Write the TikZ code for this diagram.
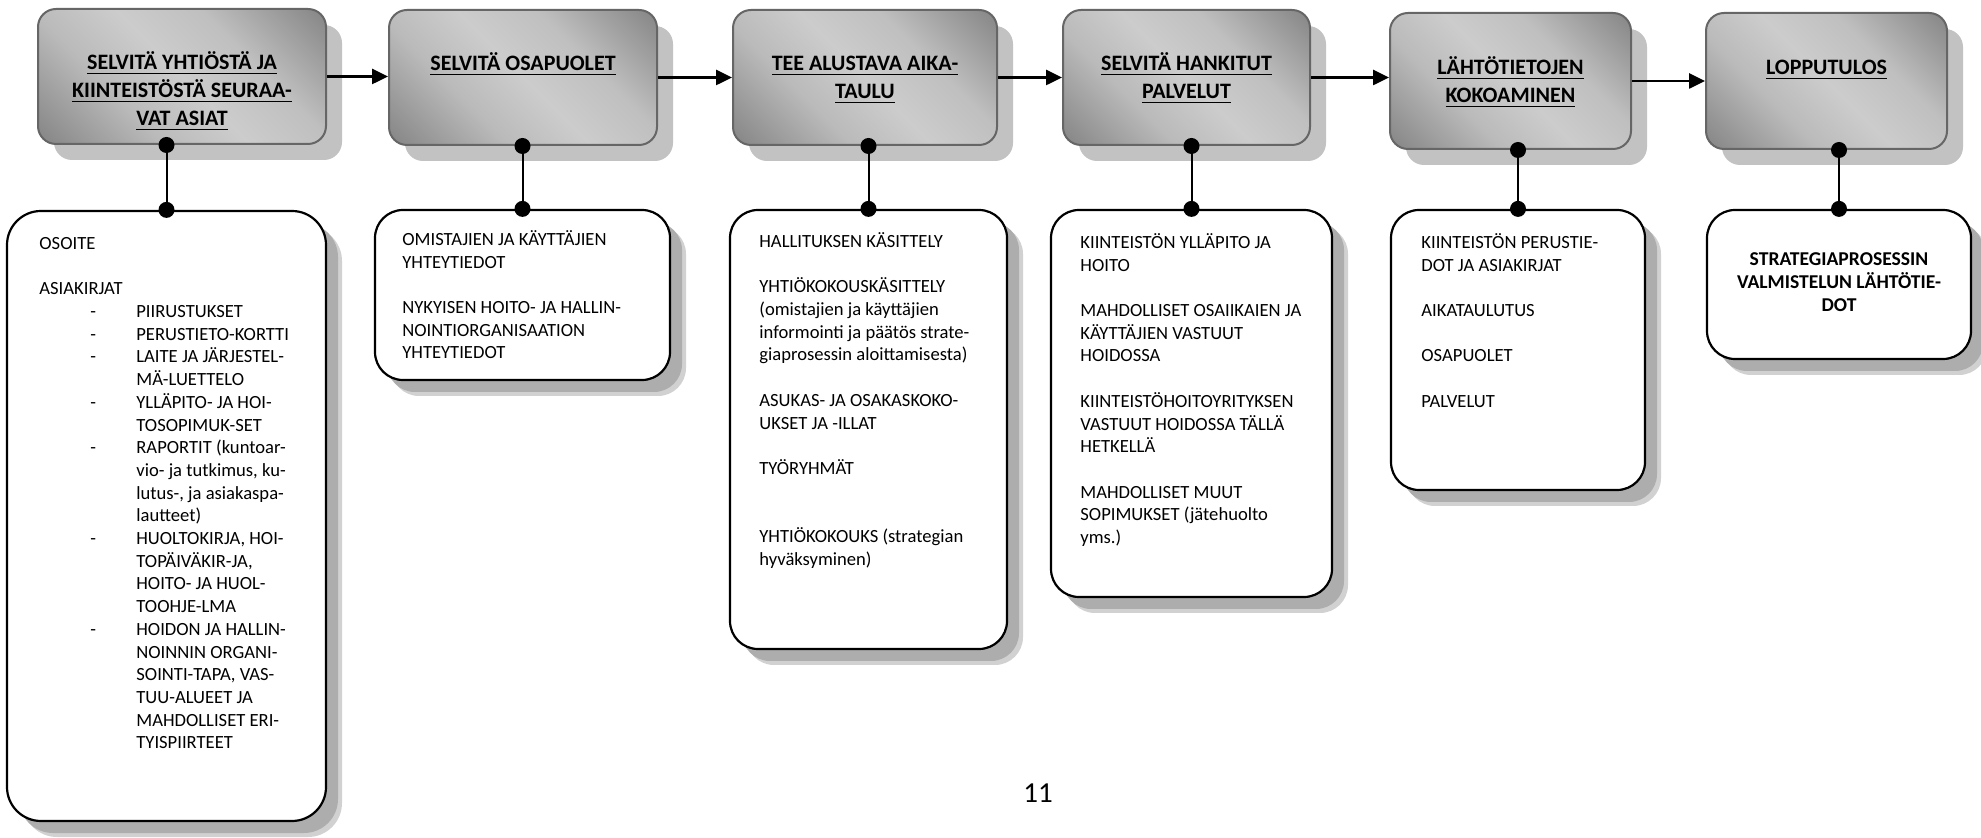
\documentclass[tikz,border=0pt]{standalone}
\usepackage{fontspec}
\setmainfont{Carlito}
\usetikzlibrary{arrows.meta,shadows,fit}
% underlined heading line
\newcommand{\uln}[1]{\leavevmode\setbox0\hbox{#1}\rlap{\rule[-2.2pt]{\wd0}{0.9pt}}\box0}
% list helpers for the first detail box
\newcommand{\itemdash}[1]{\leavevmode\makebox[48.5pt][l]{\hspace{25.5pt}-}#1}
\newcommand{\itemcont}[1]{\leavevmode\hspace*{48.5pt}#1}

% dark corners, light diagonal band
\pgfdeclareverticalshading{stagegrad}{100bp}{%
  color(0bp)=(black!62); color(15bp)=(black!60); color(24bp)=(black!50);
  color(40bp)=(black!27); color(50bp)=(black!20); color(60bp)=(black!25);
  color(76bp)=(black!50); color(85bp)=(black!60); color(100bp)=(black!62)}

\tikzset{
  stage/.style={draw=black!60, line width=1pt, rounded corners=9pt, inner sep=0pt,
    fill=black!35,
    drop shadow={shadow xshift=8pt, shadow yshift=-8pt, fill=black!24, opacity=1},
    path picture={%
      \pgfpointdiff{\pgfpointanchor{path picture bounding box}{south west}}%
                   {\pgfpointanchor{path picture bounding box}{north east}}%
      \pgfgetlastxy{\bw}{\bh}%
      \pgfmathsetlengthmacro{\hb}{(\bw+\bh)/2.8}%
      \shade[shading=stagegrad, shading angle=-45]
        (path picture bounding box.center) ++(-\hb,-\hb) rectangle ++(2*\hb,2*\hb);
    }},
  detail/.style={draw=black, line width=1.1pt, rounded corners=14pt, fill=white, inner sep=0pt,
    drop shadow={shadow xshift=8pt, shadow yshift=-8pt, fill=black!18, opacity=1},
    drop shadow={shadow xshift=6pt, shadow yshift=-6pt, fill=black!32, opacity=1}},
  title/.style={anchor=base, inner sep=0pt, font=\fontsize{11}{14}\bfseries\selectfont},
  body/.style={anchor=base west, inner sep=0pt, font=\fontsize{9.3}{11.35}\selectfont},
  flow/.style={line width=1.3pt, -{Triangle[length=8pt,width=7.5pt]}},
  link/.style={line width=1pt},
  knob/.style={fill=black}
}

\begin{document}
\begin{tikzpicture}[x=0.5pt, y=-0.5pt]
\fill[white] (0,0) rectangle (1981,838);
\useasboundingbox (0,0) rectangle (1981,838);

% process stages
\node[stage, fit={(38,9) (326,144)}] (b1) {};
\node[stage, fit={(389,10) (657,145)}] (b2) {};
\node[stage, fit={(733,10) (997,145)}] (b3) {};
\node[stage, fit={(1063,10) (1310,145)}] (b4) {};
\node[stage, fit={(1390,13) (1631,149)}] (b5) {};
\node[stage, fit={(1706,13) (1947,149)}] (b6) {};

\node[title] (t1) at (182,70) {\parbox[t]{140pt}{\centering
  \uln{SELVITÄ YHTIÖSTÄ JA}\\ \uln{KIINTEISTÖSTÄ SEURAA-}\\ \uln{VAT ASIAT}}};
\node[title] (t2) at (523,71) {\parbox[t]{130pt}{\centering \uln{SELVITÄ OSAPUOLET}}};
\node[title] (t3) at (865,71) {\parbox[t]{130pt}{\centering
  \uln{TEE ALUSTAVA AIKA-}\\ \uln{TAULU}}};
\node[title] (t4) at (1186.5,71) {\parbox[t]{120pt}{\centering
  \uln{SELVITÄ HANKITUT}\\ \uln{PALVELUT}}};
\node[title] (t5) at (1510.5,75) {\parbox[t]{120pt}{\centering
  \uln{LÄHTÖTIETOJEN}\\ \uln{KOKOAMINEN}}};
\node[title] (t6) at (1826.5,75) {\parbox[t]{120pt}{\centering \uln{LOPPUTULOS}}};

% detail boxes
\node[detail, rounded corners=17pt, fit={(7,211) (326,821)}] (d1) {};
\node[detail, fit={(375,210) (670,380)}] (d2) {};
\node[detail, fit={(730,210) (1007,649)}] (d3) {};
\node[detail, fit={(1051,210) (1332,597)}] (d4) {};
\node[detail, fit={(1391,210) (1645,490)}] (d5) {};
\node[detail, fit={(1707,210) (1971,359)}] (d6) {};

\node[body] (x1) at (39,249.5) {\parbox[t]{200pt}{\raggedright
  OSOITE\\[\baselineskip]
  ASIAKIRJAT\\
  \itemdash{PIIRUSTUKSET}\\
  \itemdash{PERUSTIETO-KORTTI}\\
  \itemdash{LAITE JA JÄRJESTEL-}\\
  \itemcont{MÄ-LUETTELO}\\
  \itemdash{YLLÄPITO- JA HOI-}\\
  \itemcont{TOSOPIMUK-SET}\\
  \itemdash{RAPORTIT (kuntoar-}\\
  \itemcont{vio- ja tutkimus, ku-}\\
  \itemcont{lutus-, ja asiakaspa-}\\
  \itemcont{lautteet)}\\
  \itemdash{HUOLTOKIRJA, HOI-}\\
  \itemcont{TOPÄIVÄKIR-JA,}\\
  \itemcont{HOITO- JA HUOL-}\\
  \itemcont{TOOHJE-LMA}\\
  \itemdash{HOIDON JA HALLIN-}\\
  \itemcont{NOINNIN ORGANI-}\\
  \itemcont{SOINTI-TAPA, VAS-}\\
  \itemcont{TUU-ALUEET JA}\\
  \itemcont{MAHDOLLISET ERI-}\\
  \itemcont{TYISPIIRTEET}}};

\node[body] (x2) at (402,245.5) {\parbox[t]{200pt}{\raggedright
  OMISTAJIEN JA KÄYTTÄJIEN\\
  YHTEYTIEDOT\\[\baselineskip]
  NYKYISEN HOITO- JA HALLIN-\\
  NOINTIORGANISAATION\\
  YHTEYTIEDOT}};

\node[body] (x3) at (759,247.5) {\parbox[t]{200pt}{\raggedright
  HALLITUKSEN KÄSITTELY\\[\baselineskip]
  YHTIÖKOKOUSKÄSITTELY\\
  (omistajien ja käyttäjien\\
  informointi ja päätös strate-\\
  giaprosessin aloittamisesta)\\[\baselineskip]
  ASUKAS- JA OSAKASKOKO-\\
  UKSET JA -ILLAT\\[\baselineskip]
  TYÖRYHMÄT\\[2\baselineskip]
  YHTIÖKOKOUKS (strategian\\
  hyväksyminen)}};

\node[body] (x4) at (1080,248.5) {\parbox[t]{200pt}{\raggedright
  KIINTEISTÖN YLLÄPITO JA\\
  HOITO\\[\baselineskip]
  MAHDOLLISET OSAIIKAIEN JA\\
  KÄYTTÄJIEN VASTUUT\\
  HOIDOSSA\\[\baselineskip]
  KIINTEISTÖHOITOYRITYKSEN\\
  VASTUUT HOIDOSSA TÄLLÄ\\
  HETKELLÄ\\[\baselineskip]
  MAHDOLLISET MUUT\\
  SOPIMUKSET (jätehuolto\\
  yms.)}};

\node[body] (x5) at (1421,248.5) {\parbox[t]{200pt}{\raggedright
  KIINTEISTÖN PERUSTIE-\\
  DOT JA ASIAKIRJAT\\[\baselineskip]
  AIKATAULUTUS\\[\baselineskip]
  OSAPUOLET\\[\baselineskip]
  PALVELUT}};

\node[body, anchor=base, font=\fontsize{9.8}{11.5}\bfseries\selectfont] (x6) at (1839,265.5)
  {\parbox[t]{125pt}{\centering
  STRATEGIAPROSESSIN\\
  VALMISTELUN LÄHTÖTIE-\\
  DOT}};

% flow between the stages
\draw[flow] (b1.east) -- (b1.east -| b2.west);
\draw[flow] (b2.east) -- (b2.east -| b3.west);
\draw[flow] (b3.east) -- (b3.east -| b4.west);
\draw[flow] (b4.east) -- (b4.east -| b5.west);
\draw[flow] (b5.east) -- (b5.east -| b6.west);

% stage-to-detail links with round ends
\foreach \s/\d in {b1/d1, b2/d2, b3/d3, b4/d4, b5/d5, b6/d6}{
  \draw[link] (\d.north |- \s.south) -- (\d.north);
  \fill[knob] (\d.north |- \s.south) circle (4pt);
  \fill[knob] (\d.north) circle (4pt);
}

% page number
\node[anchor=base, inner sep=0pt, font=\fontsize{14.5}{17}\selectfont] (pg) at (1038,803) {11};
\end{tikzpicture}
\end{document}
